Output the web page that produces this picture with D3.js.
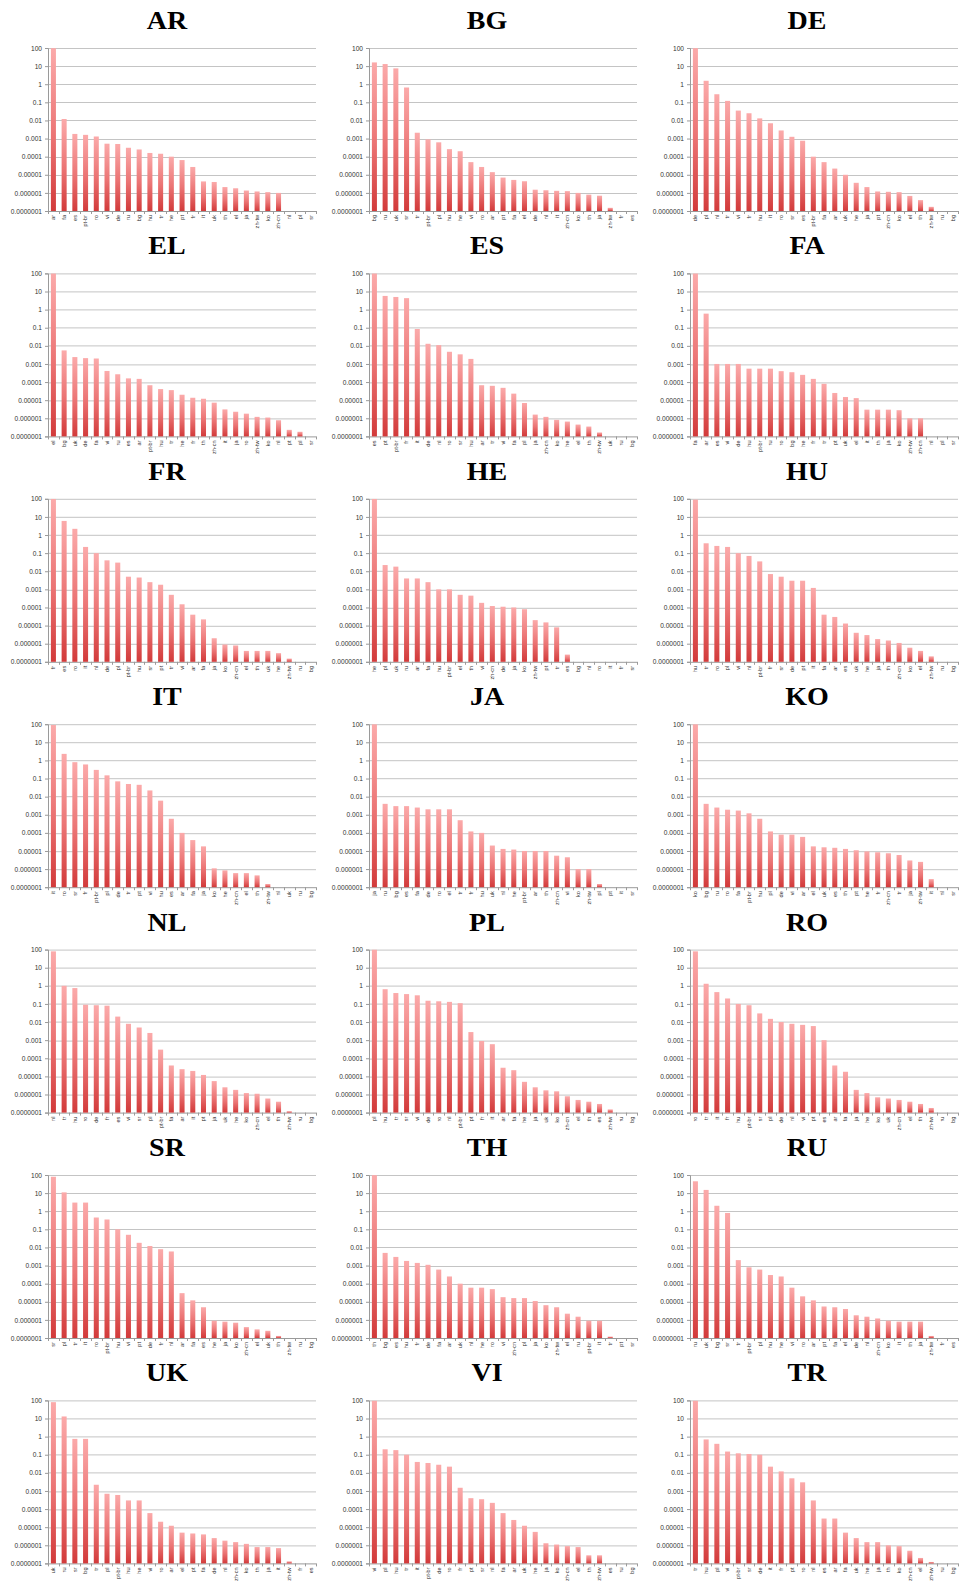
<!DOCTYPE html>
<html>
<head>
<meta charset="utf-8">
<script src="https://cdn.jsdelivr.net/npm/d3@7"></script>
<style>
  body { margin: 0; background: #fff; }
  svg { display: block; }
</style>
</head>
<body>
<div id="chart"></div>
<script>
// Y axis ticks (log scale)
const yTickValues = [100, 10, 1, 0.1, 0.01, 0.001, 0.0001, 0.00001, 0.000001, 0.0000001];
const yTickLabels = ["100", "10", "1", "0.1", "0.01", "0.001", "0.0001", "0.00001", "0.000001", "0.0000001"];

// One pair of arrays per panel: categories + values (0 = no bar)
const arLabels = ["ar","fa","es","pt-br","ro","vi","de","ru","bg","hu","tr","he","pt","fr","it","uk","th","el","ja","zh-tw","ko","zh-cn","nl","pl","sr"];
const arValues = [98,0.012,0.0018,0.0016,0.0013,0.00052,0.0005,0.00031,0.00025,0.00016,0.000145,0.0001,0.000065,0.000027,0.0000043,0.000004,0.0000021,0.0000018,0.00000135,0.0000012,0.0000011,0.000001,0,0,0];

const bgLabels = ["bg","ru","uk","sr","tr","pt-br","pl","hu","he","vi","ro","ar","pt","fa","el","de","nl","it","zh-cn","ko","th","ja","zh-tw","fr","es"];
const bgValues = [16,13,7.5,0.66,0.0021,0.0009,0.00062,0.00026,0.0002,0.00005,0.000027,0.000014,0.000007,0.0000052,0.0000044,0.0000015,0.0000014,0.0000013,0.00000125,0.000001,0.0000008,0.0000007,0.00000015,0,0];

const deLabels = ["de","pl","nl","tr","vi","fr","hu","it","ro","sr","es","pt-br","fa","ar","uk","he","ja","pt","zh-cn","ko","el","th","zh-tw","ru","bg"];
const deValues = [98,1.55,0.28,0.12,0.035,0.025,0.013,0.007,0.0028,0.00125,0.00076,0.0001,0.00005,0.000022,0.00001,0.0000036,0.0000021,0.0000012,0.00000115,0.0000011,0.00000068,0.0000004,0.00000017,0,0];

const elLabels = ["el","bg","uk","de","fa","vi","ru","es","ar","pt-br","hu","tr","he","fr","th","zh-cn","it","ja","ro","zh-tw","ko","nl","pt","pl","sr"];
const elValues = [98,0.0056,0.0024,0.0021,0.002,0.00041,0.00027,0.00016,0.00015,0.000067,0.000041,0.000036,0.00002,0.0000136,0.000012,0.0000073,0.0000031,0.0000023,0.0000018,0.0000012,0.0000011,0.00000078,0.00000023,0.00000018,0];

const esLabels = ["es","pt","pt-br","fr","it","de","nl","ro","sr","hu","ar","tr","vi","fa","pl","ja","zh-cn","ko","he","el","th","zh-tw","uk","ru","bg"];
const esValues = [98,5.7,5,4.3,0.085,0.013,0.011,0.0047,0.0034,0.0019,0.000067,0.000062,0.000048,0.000023,0.000007,0.0000016,0.0000012,0.00000082,0.00000066,0.00000045,0.00000035,0.000000165,0,0,0];

const faLabels = ["fa","ar","es","vi","de","hu","pt-br","ru","ro","bg","he","fr","tr","pt","uk","el","it","th","ja","ko","zh-tw","zh-cn","nl","pl","sr"];
const faValues = [98,0.6,0.001,0.001,0.001,0.00055,0.00055,0.00055,0.0004,0.00035,0.00025,0.00015,0.00008,0.000025,0.000015,0.000013,0.000003,0.000003,0.000003,0.0000028,0.000001,0.000001,0,0,0];

const frLabels = ["fr","es","ro","it","nl","de","pl","pt-br","hu","sr","pt","tr","vi","ar","fa","ja","ko","zh-cn","el","th","uk","he","zh-tw","ru","bg"];
const frValues = [98,6,2.2,0.22,0.1,0.04,0.03,0.005,0.0045,0.0025,0.0018,0.0005,0.00015,0.00004,0.000022,0.000002,0.0000009,0.0000008,0.0000004,0.0000004,0.0000004,0.0000003,0.00000015,0,0];

const heLabels = ["he","pl","uk","ru","ar","fa","hu","pt-br","el","th","vi","zh-cn","de","ja","ko","zh-tw","pt","tr","es","bg","nl","ro","it","fr","sr"];
const heValues = [98,0.022,0.018,0.004,0.004,0.0025,0.001,0.001,0.0005,0.00045,0.00018,0.00012,0.00011,0.0001,0.00008,0.00002,0.000015,0.000008,0.00000025,0,0,0,0,0,0];

const huLabels = ["hu","tr","ro","pl","vi","nl","pt-br","fr","sr","de","pt","it","fa","ar","es","uk","he","ja","th","zh-cn","ko","el","zh-tw","ru","bg"];
const huValues = [90,0.35,0.25,0.22,0.1,0.07,0.035,0.007,0.005,0.003,0.003,0.0012,0.00004,0.00003,0.000013,0.000004,0.000003,0.0000018,0.0000015,0.0000011,0.0000006,0.0000004,0.0000002,0,0];

const itLabels = ["it","ro","sr","fr","pt-br","pl","de","tr","pt","vi","hu","es","ar","fa","ja","ko","he","zh-cn","el","th","zh-tw","nl","uk","ru","bg"];
const itValues = [90,2.3,0.8,0.6,0.3,0.15,0.07,0.05,0.045,0.022,0.006,0.0006,0.0001,0.00004,0.000018,0.0000011,0.00000085,0.0000006,0.0000006,0.00000045,0.00000015,0,0,0,0];

const jaLabels = ["ja","ru","bg","es","fa","de","ro","el","tr","fr","hu","uk","nl","he","pt-br","ar","th","zh-cn","vi","ko","zh-tw","pl","pt","it","sr"];
const jaValues = [98,0.004,0.003,0.003,0.0025,0.002,0.002,0.002,0.0005,0.00012,0.0001,0.00002,0.000013,0.000012,0.00001,0.00001,0.00001,0.0000055,0.0000045,0.000001,0.000001,0.00000015,0,0,0];

const koLabels = ["ko","bg","ru","ro","fa","pt-br","hu","pl","de","vi","ar","el","uk","es","th","pt","he","fr","zh-cn","tr","ja","zh-tw","it","nl","sr"];
const koValues = [98,0.004,0.0025,0.0019,0.0017,0.0012,0.0006,0.00012,0.00008,0.00008,0.00006,0.000018,0.000016,0.000015,0.000013,0.000011,0.0000095,0.0000085,0.0000075,0.000006,0.000003,0.0000025,0.00000028,0,0];

const nlLabels = ["nl","tr","hu","ro","de","fr","es","vi","sr","pl","pt-br","fa","ar","it","pt","ja","uk","he","ko","zh-cn","el","th","zh-tw","ru","bg"];
const nlValues = [80,1,0.75,0.09,0.085,0.08,0.02,0.008,0.005,0.0025,0.0003,0.00004,0.000025,0.00002,0.000012,0.0000055,0.0000025,0.0000018,0.0000012,0.0000011,0.0000006,0.0000004,0.00000012,0,0];

const plLabels = ["pl","hu","tr","sr","vi","de","ro","nl","pt-br","pt","fr","it","ar","fa","he","ja","uk","ko","zh-cn","el","th","es","zh-tw","ru","bg"];
const plValues = [98,0.65,0.4,0.35,0.3,0.15,0.14,0.13,0.11,0.0028,0.0009,0.0006,0.00003,0.000022,0.000005,0.0000025,0.0000017,0.0000015,0.0000008,0.0000005,0.0000004,0.0000003,0.00000015,0,0];

const roLabels = ["ro","tr","it","fr","hu","pt-br","sr","pl","de","nl","vi","pt","es","ar","fa","ja","he","ko","uk","zh-cn","el","th","zh-tw","ru","bg"];
const roValues = [80,1.3,0.45,0.2,0.1,0.085,0.03,0.015,0.01,0.008,0.007,0.006,0.001,0.00004,0.000018,0.0000018,0.0000012,0.0000007,0.0000006,0.0000005,0.0000004,0.0000003,0.00000018,0,0];

const srLabels = ["sr","pl","tr","it","ro","pt-br","hu","vi","pt","de","fr","nl","ar","fa","es","he","ja","ko","zh-cn","el","uk","th","zh-tw","ru","bg"];
const srValues = [80,11,3,3,0.45,0.35,0.1,0.05,0.018,0.012,0.008,0.006,0.00003,0.000012,0.000005,0.0000009,0.0000008,0.0000007,0.0000004,0.0000003,0.00000025,0.00000013,0,0,0];

const thLabels = ["th","bg","es","hu","fr","de","fa","ar","uk","nl","he","ro","vi","zh-cn","pl","ja","ko","zh-tw","el","ru","pt-br","it","tr","pt","sr"];
const thValues = [98,0.005,0.003,0.0018,0.0014,0.0011,0.0006,0.00025,0.0001,0.00006,0.00006,0.00005,0.000018,0.000016,0.000016,0.000011,0.0000065,0.000005,0.0000022,0.0000015,0.0000009,0.0000009,0.00000012,0,0];

const ruLabels = ["ru","uk","bg","sr","tr","pt-br","pl","hu","he","vi","ro","ar","pt","fa","el","de","nl","zh-cn","ko","it","th","ja","zh-tw","fr","es"];
const ruValues = [45,15,2,0.8,0.002,0.0008,0.0006,0.0003,0.00025,0.00006,0.00002,0.000012,0.0000055,0.000005,0.000004,0.0000018,0.0000015,0.0000012,0.0000009,0.0000008,0.0000008,0.0000008,0.00000013,0,0];

const ukLabels = ["uk","ru","sr","bg","tr","pl","pt-br","hu","he","vi","ro","ar","el","pt","fa","de","nl","zh-cn","ko","th","ja","it","zh-tw","fr","es"];
const ukValues = [80,13,0.75,0.75,0.0022,0.0007,0.0006,0.0003,0.0003,0.00006,0.00002,0.000012,0.000005,0.0000045,0.000004,0.0000025,0.0000018,0.0000015,0.0000012,0.0000008,0.0000008,0.0000007,0.00000013,0,0];

const viLabels = ["vi","pl","hu","tr","it","pt-br","de","ro","fr","pt","sr","nl","fa","ar","uk","he","ja","ko","zh-cn","el","th","zh-tw","es","ru","bg"];
const viValues = [95,0.2,0.18,0.1,0.04,0.035,0.028,0.022,0.0015,0.0004,0.00035,0.00022,0.00006,0.000025,0.000012,0.0000055,0.0000013,0.0000011,0.0000009,0.0000008,0.00000028,0.00000028,0,0,0];

const trLabels = ["tr","hu","pl","vi","pt-br","sr","de","it","fr","pt","ro","nl","es","ar","fa","uk","he","ja","th","ko","zh-cn","el","zh-tw","ru","bg"];
const trValues = [95,0.7,0.4,0.15,0.12,0.11,0.1,0.022,0.012,0.005,0.003,0.0003,0.00003,0.00003,0.000005,0.0000025,0.0000015,0.0000015,0.000001,0.0000009,0.0000005,0.0000002,0.00000012,0,0];

const panels = [
    ["AR", arLabels, arValues], ["BG", bgLabels, bgValues], ["DE", deLabels, deValues],
    ["EL", elLabels, elValues], ["ES", esLabels, esValues], ["FA", faLabels, faValues],
    ["FR", frLabels, frValues], ["HE", heLabels, heValues], ["HU", huLabels, huValues],
    ["IT", itLabels, itValues], ["JA", jaLabels, jaValues], ["KO", koLabels, koValues],
    ["NL", nlLabels, nlValues], ["PL", plLabels, plValues], ["RO", roLabels, roValues],
    ["SR", srLabels, srValues], ["TH", thLabels, thValues], ["RU", ruLabels, ruValues],
    ["UK", ukLabels, ukValues], ["VI", viLabels, viValues], ["TR", trLabels, trValues]
];

// Layout
const W = 959, H = 1584;
const colX = [0, 320, 640];
const plotLeft = [48, 49, 50];
const rowH = 225.4;
const plotTop = 48, plotH = 163, plotW = 268;

const svg = d3.select("#chart").append("svg")
    .attr("width", W)
    .attr("height", H)
    .style("font-family", "'Liberation Sans', Arial, sans-serif");

// Bar gradient: light pink on top, red at the bottom
const grad = svg.append("defs").append("linearGradient")
    .attr("id", "barGrad")
    .attr("x1", 0).attr("y1", 0).attr("x2", 0).attr("y2", 1);
grad.append("stop").attr("offset", "0%").attr("stop-color", "#fbaaaa");
grad.append("stop").attr("offset", "55%").attr("stop-color", "#eb7373");
grad.append("stop").attr("offset", "100%").attr("stop-color", "#d23a3a");

const y = d3.scaleLog()
    .domain([1e-7, 100])
    .range([plotH, 0]);

panels.forEach(([title, labels, values], i) => {
    const col = i % 3, row = Math.floor(i / 3);
    const ox = colX[col], oy = row * rowH;

    const panel = svg.append("g")
        .attr("transform", `translate(${ox},${oy})`);

    // Title (wide bold serif, like the LaTeX heading)
    panel.append("text")
        .attr("transform", "translate(167,29) scale(1.12,1)")
        .attr("text-anchor", "middle")
        .style("font-family", "'Liberation Serif', 'Times New Roman', serif")
        .style("font-weight", "bold")
        .style("font-size", "25px")
        .attr("fill", "#000")
        .text(title);

    const g = panel.append("g")
        .attr("transform", `translate(${plotLeft[col]},${plotTop})`);

    const x = d3.scaleBand()
        .domain(labels)
        .range([0, plotW])
        .padding(0);

    // Gridlines
    g.append("g")
        .selectAll("line")
        .data(yTickValues)
        .enter()
        .append("line")
        .attr("x1", 0)
        .attr("x2", plotW)
        .attr("y1", d => Math.round(y(d)) + 0.5)
        .attr("y2", d => Math.round(y(d)) + 0.5)
        .attr("stroke", d => d === 1e-7 ? "#9a9a9a" : "#c4c4c4")
        .attr("stroke-width", 1);

    // Y axis
    const yAxis = g.append("g")
        .call(d3.axisLeft(y)
            .tickValues(yTickValues)
            .tickFormat((d, k) => yTickLabels[k])
            .tickSize(3)
            .tickPadding(3));
    yAxis.select(".domain").attr("stroke", "#9a9a9a");
    yAxis.selectAll(".tick line").attr("stroke", "#9a9a9a");
    yAxis.selectAll(".tick text")
        .attr("fill", "#333")
        .style("font-size", "6.6px")
        .style("font-family", "'Liberation Sans', Arial, sans-serif");

    // Bars
    g.append("g")
        .selectAll("rect")
        .data(labels.map((l, k) => ({ label: l, value: values[k] })).filter(d => d.value > 0))
        .enter()
        .append("rect")
        .attr("x", d => x(d.label) + x.bandwidth() * 0.27)
        .attr("width", x.bandwidth() * 0.47)
        .attr("y", d => y(d.value))
        .attr("height", d => plotH - y(d.value))
        .attr("fill", "url(#barGrad)");

    // X axis: tick marks between categories, rotated labels
    g.append("g")
        .selectAll("line")
        .data(labels.concat(["_end"]))
        .enter()
        .append("line")
        .attr("x1", (d, k) => Math.round(k * x.step()) + 0.5)
        .attr("x2", (d, k) => Math.round(k * x.step()) + 0.5)
        .attr("y1", plotH)
        .attr("y2", plotH + 3)
        .attr("stroke", "#9a9a9a");

    const xAxis = g.append("g")
        .attr("transform", `translate(0,${plotH})`)
        .call(d3.axisBottom(x).tickSize(0).tickPadding(0));
    xAxis.select(".domain").remove();
    xAxis.selectAll(".tick text")
        .attr("transform", "rotate(-90)")
        .attr("x", -4)
        .attr("y", 0)
        .attr("dy", "0.35em")
        .style("text-anchor", "end")
        .style("font-size", "5.6px")
        .style("font-family", "'Liberation Sans', Arial, sans-serif")
        .attr("fill", "#333");
});
</script>
</body>
</html>
